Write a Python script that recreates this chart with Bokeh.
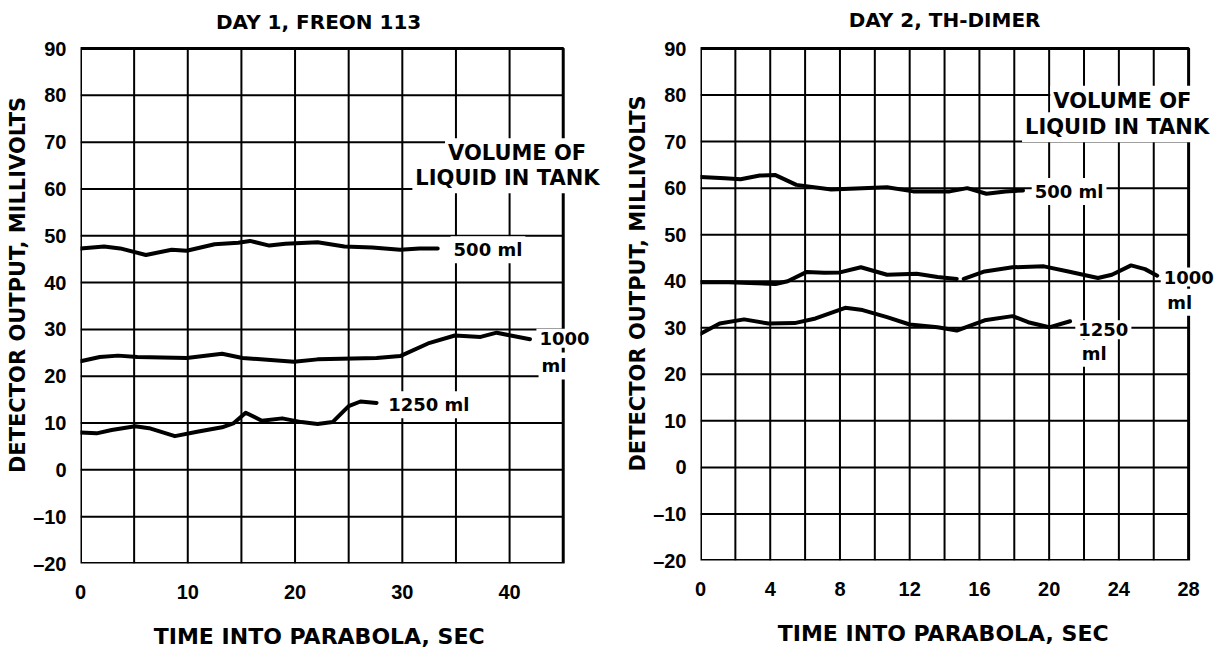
from bokeh.plotting import figure
from bokeh.layouts import row
from bokeh.models import Label, FixedTicker
from bokeh.embed import file_html
from bokeh.resources import INLINE

NaN = float("nan")

# ---------------- data ----------------
titles = ["DAY 1, FREON 113", "DAY 2, TH-DIMER"]
x_label = "TIME INTO PARABOLA, SEC"
y_label = "DETECTOR OUTPUT, MILLIVOLTS"
y_ticks = [-20, -10, 0, 10, 20, 30, 40, 50, 60, 70, 80, 90]
y_grid = [-10, 0, 10, 20, 30, 40, 50, 60, 70, 80]
y_min, y_max = -20, 90
d1_x_ticks = [0, 10, 20, 30, 40]
d1_x_grid = [5, 10, 15, 20, 25, 30, 35, 40]
d1_x_max = 45
d2_x_ticks = [0, 4, 8, 12, 16, 20, 24, 28]
d2_x_grid = [2, 4, 6, 8, 10, 12, 14, 16, 18, 20, 22, 24, 26]
d2_x_max = 28

# Day 1, Freon 113
d1_500_x = [0, 2.2, 3.7, 6.1, 8.5, 9.9, 12.5, 14.7, 15.8, 17.6, 19.1, 22.1, 24.6, 27.2, 29.8, 31.6, 33.3]
d1_500_y = [47.3, 47.7, 47.3, 45.9, 47.0, 46.8, 48.2, 48.5, 48.9, 47.9, 48.3, 48.6, 47.7, 47.5, 47.0, 47.3, 47.3]
d1_1000_x = [0, 1.8, 3.5, 5.3, 9.9, 13.2, 15.1, 19.9, 22.1, 27.6, 29.8, 32.4, 34.9, 37.3, 38.8, 40.1, 41.9]
d1_1000_y = [23.2, 24.1, 24.4, 24.1, 23.9, 24.8, 23.9, 23.1, 23.6, 23.9, 24.3, 27.0, 28.7, 28.4, 29.3, 28.7, 27.9]
d1_1250_x = [0, 1.5, 2.9, 5.1, 6.4, 8.8, 11.0, 13.2, 14.3, 15.4, 16.9, 18.8, 20.6, 22.1, 23.5, 25.0, 26.1, 27.6]
d1_1250_y = [8.0, 7.8, 8.5, 9.3, 8.9, 7.2, 8.2, 9.1, 10.0, 12.2, 10.5, 11.0, 10.2, 9.8, 10.2, 13.6, 14.6, 14.3]

# Day 2, TH-Dimer
d2_500_x = [0, 1.4, 2.3, 3.4, 4.3, 5.5, 7.5, 10.7, 12.2, 14.3, 15.3, 16.4, 17.5, 18.5]
d2_500_y = [62.4, 62.1, 61.9, 62.7, 62.8, 60.7, 59.7, 60.2, 59.3, 59.3, 60.0, 58.8, 59.3, 59.5]
d2_1000_x = [0, 1.6, 4.3, 5.0, 6.1, 7.1, 8.0, 9.2, 10.7, 12.4, 13.6, 14.7, NaN,
             15.1, 16.3, 17.9, 19.7, 21.1, 22.8, 23.6, 24.7, 25.5, 26.2]
d2_1000_y = [39.8, 39.8, 39.4, 40.0, 42.0, 41.8, 41.9, 43.0, 41.4, 41.6, 40.9, 40.5, NaN,
             40.5, 42.1, 43.0, 43.2, 42.1, 40.7, 41.4, 43.4, 42.6, 41.2]
d2_1250_x = [0, 1.1, 2.5, 3.9, 5.4, 6.6, 8.3, 9.3, 10.7, 12.0, 13.6, 14.7, 16.3, 17.9, 18.8, 20.0, 21.2]
d2_1250_y = [28.7, 30.9, 31.8, 30.9, 31.0, 32.0, 34.3, 33.8, 32.3, 30.7, 30.1, 29.4, 31.6, 32.5, 31.2, 30.1, 31.4]

TXT_FONT = "DejaVu Sans"
NUM_FONT = "Liberation Sans"
NBSP = "\u00a0"


def make_fig(xmax, view_max, xticks, xgrid, fw, plot_h, top_pad, br, xl_pad):
    # plot box occupies plot_h px for y_min..y_max; extra space above holds the title
    fh = plot_h + top_pad
    view_top = y_min + fh * (y_max - y_min) / plot_h
    p = figure(x_range=(0, view_max), y_range=(y_min, view_top),
               frame_width=fw, frame_height=fh,
               min_border_left=80, min_border_right=br,
               min_border_top=6, min_border_bottom=84,
               output_backend="svg", toolbar_location=None)
    p.outline_line_color = None
    p.background_fill_color = "white"
    p.border_fill_color = "white"
    p.xgrid.visible = False
    p.ygrid.visible = False

    p.xaxis.ticker = FixedTicker(ticks=xticks)
    p.yaxis.ticker = FixedTicker(ticks=y_ticks)
    p.yaxis.major_label_overrides = {-20: "\u201320", -10: "\u201310"}
    for ax in (p.xaxis[0], p.yaxis[0]):
        ax.axis_line_color = None
        ax.major_tick_line_color = None
        ax.minor_tick_line_color = None
        ax.major_label_text_font = NUM_FONT
        ax.major_label_text_font_size = "20px"
        ax.major_label_text_font_style = "bold"
        ax.major_label_text_color = "black"
        ax.axis_label_text_font = TXT_FONT
        ax.axis_label_text_font_style = "bold"
        ax.axis_label_text_color = "black"
    p.yaxis.axis_label = y_label
    p.yaxis.axis_label_text_font_size = "21px"
    p.xaxis.axis_label = x_label + NBSP * xl_pad
    p.xaxis.axis_label_text_font_size = "22px"
    p.xaxis.major_label_standoff = 15
    p.xaxis.axis_label_standoff = 22
    p.yaxis.major_label_standoff = 8
    p.yaxis.axis_label_standoff = 0

    # grid lines (drawn from the tick lists) and plot box
    p.segment(x0=xgrid, x1=xgrid, y0=[y_min] * len(xgrid), y1=[y_max] * len(xgrid),
              line_color="black", line_width=2)
    p.segment(x0=[0] * len(y_grid), x1=[xmax] * len(y_grid), y0=y_grid, y1=y_grid,
              line_color="black", line_width=2)
    p.quad(left=[0], right=[xmax], bottom=[y_min], top=[y_max], fill_color=None,
           line_color="black", line_width=3)
    return p


def lab(p, x, y, text, size="18px", align="left", bg="white"):
    p.add_layout(Label(x=x, y=y, text=text, text_font=TXT_FONT, text_font_size=size,
                       text_font_style="bold", text_color="black",
                       text_align=align, text_baseline="middle",
                       background_fill_color=bg, padding=3))


# ----- left panel -----
p1 = make_fig(d1_x_max, 49.5, d1_x_ticks, d1_x_grid, fw=531, plot_h=515, top_pad=42,
              br=9, xl_pad=7)
for xs, ys in ((d1_500_x, d1_500_y), (d1_1000_x, d1_1000_y), (d1_1250_x, d1_1250_y)):
    p1.line(xs, ys, line_color="black", line_width=4, line_join="round", line_cap="round")
lab(p1, 22.2, 95.6, titles[0], "20px", "center", None)
lab(p1, 40.7, 67.6, "VOLUME OF", "21px", "center")
lab(p1, 39.8, 62.3, "LIQUID IN TANK", "21px", "center")
lab(p1, 34.5, 47.0, "500 ml")
lab(p1, 42.5, 28.1, "1000")
lab(p1, 42.7, 22.2, "ml")
lab(p1, 28.4, 13.9, "1250 ml")

# ----- right panel -----
p2 = make_fig(d2_x_max, 29.6, d2_x_ticks, d2_x_grid, fw=516, plot_h=512, top_pad=42,
              br=5, xl_pad=4)
for xs, ys in ((d2_500_x, d2_500_y), (d2_1000_x, d2_1000_y), (d2_1250_x, d2_1250_y)):
    p2.line(xs, ys, line_color="black", line_width=4, line_join="round", line_cap="round")
lab(p2, 14.0, 96.2, titles[1], "20px", "center", None)
lab(p2, 24.2, 78.8, "VOLUME OF", "21px", "center")
lab(p2, 23.9, 73.1, "LIQUID IN TANK", "21px", "center")
lab(p2, 19.0, 59.3, "500 ml")
lab(p2, 26.4, 40.9, "1000")
lab(p2, 26.6, 35.5, "ml")
lab(p2, 21.5, 29.6, "1250")
lab(p2, 21.7, 24.5, "ml")

layout = row(p1, p2, spacing=0)
open("out.html", "w").write(file_html(layout, INLINE))
